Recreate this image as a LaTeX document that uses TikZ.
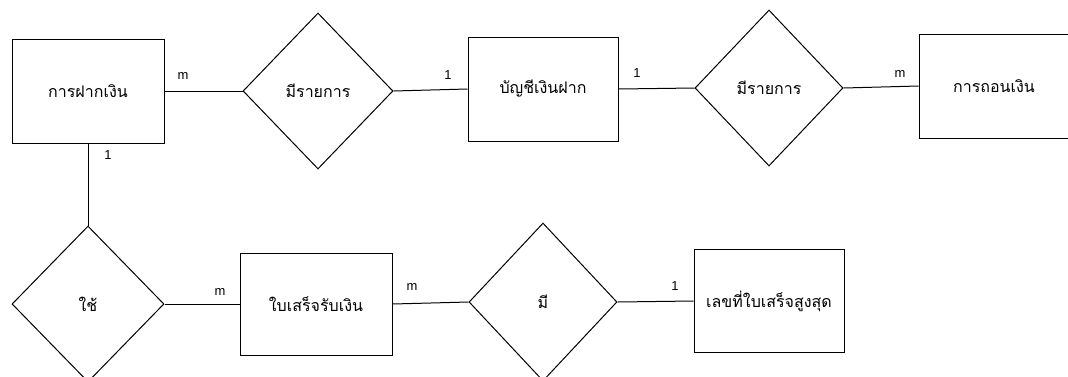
\documentclass[tikz,border=0pt]{standalone}
\usepackage{fontspec}
\newfontfamily\thaifont[Script=Thai]{Loma}
\setmainfont{Liberation Sans}
\usetikzlibrary{shapes.geometric}
\tikzset{
  entity/.style={draw, rectangle, minimum width=152pt, minimum height=104pt, inner sep=0pt, font=\thaifont\fontsize{16}{18}\selectfont},
  relation/.style={draw, diamond, minimum width=150pt, minimum height=156pt, inner sep=0pt, font=\thaifont\fontsize{16}{18}\selectfont},
  card/.style={font=\fontsize{13}{15}\selectfont, inner sep=0pt},
  conn/.style={draw, line width=1pt}
}
\begin{document}
\begin{tikzpicture}[x=1pt, y=-1pt, line width=1pt]
\useasboundingbox (0,0) rectangle (1068,376);
\fill[white] (0,0) rectangle (1068,376);
\clip (0,0) rectangle (1068,376);
% top row
\node[entity] (e1) at (88,91) {การฝากเงิน};
\node[relation] (r1) at (318,91) {มีรายการ};
\node[entity, minimum width=150pt] (e2) at (543,89) {บัญชีเงินฝาก};
\node[relation, minimum width=148pt] (r2) at (769,88) {มีรายการ};
\node[entity, minimum width=150pt] (e3) at (994,86) {การถอนเงิน};
% bottom row
\node[relation, minimum width=152pt] (r3) at (88,304) {ใช้};
\node[entity, minimum height=102pt] (e4) at (316,304) {ใบเสร็จรับเงิน};
\node[relation, minimum width=148pt, minimum height=158pt] (r4) at (543,302) {มี};
\node[entity, minimum width=150pt, minimum height=103pt] (e5) at (769,301) {เลขที่ใบเสร็จสูงสุด};
% connectors
\draw[conn] (e1.east) -- (r1.west);
\draw[conn] (r1.east) -- (e2.west);
\draw[conn] (e2.east) -- (r2.west);
\draw[conn] (r2.east) -- (e3.west);
\draw[conn] (e1.south) -- (r3.north);
\draw[conn] (r3.east) -- (e4.west);
\draw[conn] (e4.east) -- (r4.west);
\draw[conn] (r4.east) -- (e5.west);
% cardinalities
\node[card] (c1) at (183,76) {m};
\node[card] (c2) at (448,75) {1};
\node[card] (c3) at (637,73) {1};
\node[card] (c4) at (900,74) {m};
\node[card] (c5) at (108,155) {1};
\node[card] (c6) at (220,292) {m};
\node[card] (c7) at (412,287) {m};
\node[card] (c8) at (675,286) {1};
\end{tikzpicture}
\end{document}
